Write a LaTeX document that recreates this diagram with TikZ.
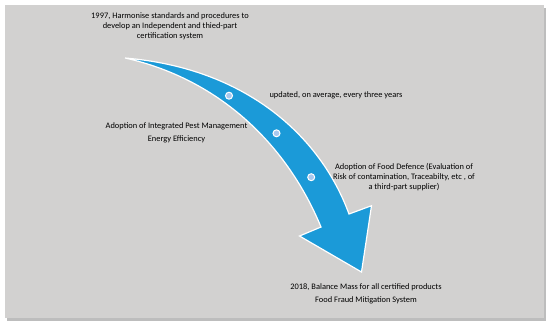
\documentclass[tikz,border=0pt]{standalone}
\usepackage{fontspec}
\setmainfont{Carlito}
\definecolor{bggray}{HTML}{D2D1D0}
\definecolor{shadowgray}{HTML}{BDBDBD}
\definecolor{arrowblue}{HTML}{1B9AD8}
\definecolor{dotblue}{HTML}{A8C8EE}
\tikzset{
  lbl/.style={font=\fontsize{8.4bp}{9.7bp}\selectfont, text=black, align=center, inner sep=0pt},
  tdot/.style={circle, fill=dotblue, draw=white, line width=1bp, minimum size=7bp, inner sep=0pt},
}
\begin{document}
\begin{tikzpicture}[x=1bp,y=-1bp]
\useasboundingbox (0,0) rectangle (550,325);
\fill[white] (0,0) rectangle (550,325);
% shadow and background
\fill[shadowgray] (6.5,7.5) rectangle (545.5,320.5);
\fill[bggray] (5,4.5) rectangle (543.5,318.3);
% arrow
\draw[white, line width=1.2bp, fill=arrowblue, line join=miter]
  (125,58) .. controls (245,68) and (320,135) .. (349,214)
  -- (371.5,205.7) -- (361.5,272) -- (299.5,236) -- (321,227)
  .. controls (285,140) and (215,78) .. (125,58) -- cycle;
% dots
\node[tdot] (d1) at (229,95.7) {};
\node[tdot] (d2) at (276.5,133.3) {};
\node[tdot] (d3) at (311.2,177.2) {};
% labels
\node[lbl] (t1997) at (170,26.4) {1997, Harmonise standards and procedures to\\develop an Independent and thied-part\\certification system};
\node[lbl] (tupd) at (336,95.7) {updated, on average, every three years};
\node[lbl] (tipm) at (176.5,126.7) {Adoption of Integrated Pest Management};
\node[lbl] (tee) at (176.5,139.7) {Energy Efficiency};
\node[lbl] (tfd) at (404,177) {Adoption of Food Defence (Evaluation of\\Risk of contamination, Traceabilty, etc , of\\a third-part supplier)};
\node[lbl] (t2018) at (366,287) {2018, Balance Mass for all certified products};
\node[lbl] (tffm) at (366,300.3) {Food Fraud Mitigation System};
\end{tikzpicture}
\end{document}
